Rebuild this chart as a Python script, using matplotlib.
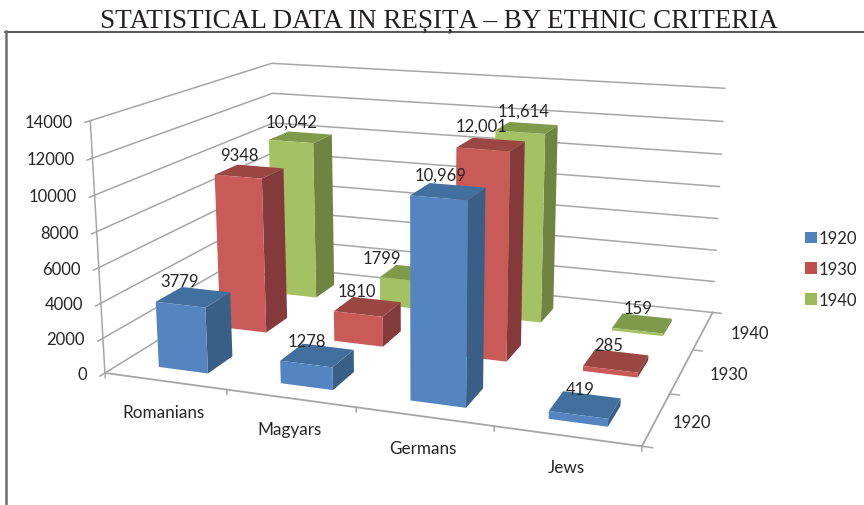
import numpy as np
import matplotlib
matplotlib.use('Agg')
import matplotlib.pyplot as plt
from matplotlib.lines import Line2D
from matplotlib.patches import Patch
from mpl_toolkits.mplot3d import proj3d

plt.rcParams['font.family'] = ['Lato', 'DejaVu Sans']

title = 'STATISTICAL DATA IN REȘIȚA – BY ETHNIC CRITERIA'
groups = ['Romanians', 'Magyars', 'Germans', 'Jews']
years = ['1920', '1930', '1940']
v1920 = [3779, 1278, 10969, 419]
v1930 = [9348, 1810, 12001, 285]
v1940 = [10042, 1799, 11614, 159]
labels1920 = ['3779', '1278', '10,969', '419']
labels1930 = ['9348', '1810', '12,001', '285']
labels1940 = ['10,042', '1799', '11,614', '159']
zticks = [0, 2000, 4000, 6000, 8000, 10000, 12000, 14000]

values = [v1920, v1930, v1940]
labels = [labels1920, labels1930, labels1940]
# pixel nudges of the value labels, one row per year
label_dx = [[-15, -11, -8, -5], [-11, -11, -10, -7], [-10, -29, -3, -4]]
label_dy = [[2, 0, 2, 0], [4, 2, 5, 1], [4, 3, 5, 2]]
year_dx = [35, 47, 47]
# front, top, right side of each bar
colors = [('#5585c0', '#41709f', '#3a5f87'),
          ('#c85b58', '#9a4643', '#843a3a'),
          ('#a4c263', '#7f9a4b', '#6f8440')]
legend_colors = ['#4f81bd', '#c0504d', '#9bbb59']
grid = '#a6a6a6'
text_color = '#262626'

W, H = 864, 506
fig = plt.figure(figsize=(W / 100, H / 100), dpi=100, facecolor='white')
# camera and box fitted to the corners of the reference's walls
ax = fig.add_axes([83.0 / W, -64.4 / H, 671.3 / W, 671.3 / H], projection='3d', computed_zorder=False)
ax.set_xlim(0, 4, view_margin=0)
ax.set_ylim(0, 3, view_margin=0)
ax.set_zlim(0, 14000, view_margin=0)
ax.view_init(elev=14.656, azim=-70.51, roll=-0.089)
ax.set_proj_type('persp', focal_length=0.4)
ax.set_box_aspect((1, 0.74, 0.472))
ax.set_axis_off()
ax.patch.set_alpha(0)
M = ax.get_proj()


def label(x, y, z, s, dx=0, dy=0, size=12, ha='center'):
    px, py, _ = proj3d.proj_transform(x, y, z, M)
    ax.annotate(s, xy=(px, py), xytext=(dx, dy), textcoords='offset pixels', ha=ha, va='center',
                fontsize=size, color=text_color, zorder=100, annotation_clip=False)


# walls
for z in zticks:
    ax.plot([0, 0, 4], [0, 3, 3], [z, z, z], color=grid, lw=1.1, zorder=1)
    ax.plot([0, 0], [0, -0.07], [z, z], color=grid, lw=1.1, zorder=1)
ax.plot([0, 0], [0, 0], [0, 14000], color=grid, lw=1.1, zorder=1)
ax.plot([0, 4, 4], [0, 0, 3], [0, 0, 0], color=grid, lw=1.3, zorder=1)
for i in range(5):
    ax.plot([i, i], [0, 0], [0, -260], color=grid, lw=1.1, zorder=1)
for j in range(4):
    ax.plot([4, 4.07], [j, j], [0, 0], color=grid, lw=1.1, zorder=1)

# bars, painted from back to front
bar_w = 0.41
bar_d = 0.40
order = 10
for j in (2, 1, 0):
    for i in range(4):
        front, top, side = colors[j]
        none = (0, 0, 0, 0)
        ax.bar3d(i + 0.515 - bar_w / 2, j + 0.25, 0, bar_w, bar_d, values[j][i],
                 color=[none, top, front, none, none, side], shade=False,
                 linewidth=0, zorder=order)
        order += 1

for j in range(3):
    for i in range(4):
        label(i + 0.5, j + 0.5, values[j][i] + 700, labels[j][i], label_dx[j][i], label_dy[j][i])

for z in zticks:
    label(0, 0, z, str(z), -18, -1, ha='right')
for i, g in enumerate(groups):
    label(i + 0.5, 0, 0, g, -1, -31, size=12.3)
for j, y in enumerate(years):
    label(4, j + 0.5, 0, y, year_dx[j], -3)

handles = [Patch(facecolor=c, edgecolor='none') for c in legend_colors]
fig.legend(handles, years, loc='center left', bbox_to_anchor=(805 / W, 1 - 270 / H), frameon=False,
           fontsize=12, handlelength=0.72, handleheight=0.72, handletextpad=0.12, labelspacing=0.88,
           labelcolor=text_color, borderpad=0, borderaxespad=0)

fig.text(438.5 / W, 1 - 27.5 / H, title, ha='center', va='baseline', family='Liberation Serif',
         fontsize=19.5, color='#231f20')

# chart frame
fig.add_artist(Line2D([5 / W, 1], [1 - 32.5 / H, 1 - 32.5 / H], color='#3a3a3a', lw=1.2))
fig.add_artist(Line2D([6 / W, 6 / W], [1 - 32 / H, 0], color='#6e6e6e', lw=1.8))

fig.savefig('out.png', dpi=100, facecolor='white')
